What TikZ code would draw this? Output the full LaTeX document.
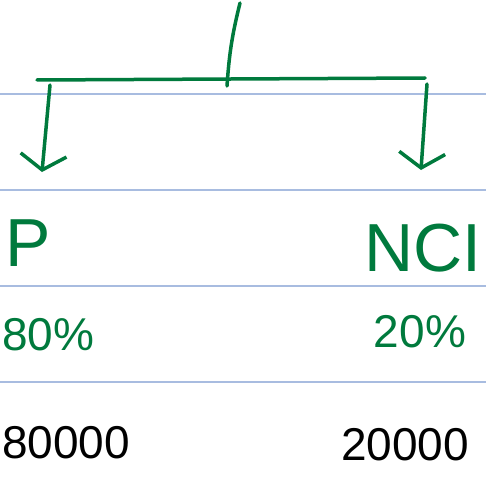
\documentclass[tikz,border=0pt]{standalone}
\usepackage{fontspec}
\setmainfont{Liberation Sans}
\usetikzlibrary{arrows.meta,positioning}
\definecolor{penGreen}{RGB}{0,122,61}
\definecolor{ruleBlue}{RGB}{168,188,224}

\begin{document}
\begin{tikzpicture}[x=1pt,y=-1pt,>={Straight Barb[length=15pt,width=46pt,line width=3.5pt]},
    pen/.style={draw=penGreen,line width=3.5pt,line cap=round,line join=round},
    ruling/.style={draw=ruleBlue,line width=1.5pt},
    entity/.style={text=penGreen,inner sep=0pt,font=\fontsize{68}{68}\selectfont},
    share/.style={text=penGreen,inner sep=0pt,font=\fontsize{46}{46}\selectfont},
    amount/.style={text=black,inner sep=0pt,font=\fontsize{46}{46}\selectfont}]
    \useasboundingbox[fill=white] (0,0) rectangle (486,476);

    % notebook lines
    \foreach \y in {94,190,286,382}
        \draw[ruling] (0,\y) -- (486,\y);

    \coordinate (top) at (240,3);
    \coordinate (joint) at (227,86);
    \coordinate (barl) at (37,80);
    \coordinate (barr) at (425,78);
    \coordinate (dropl) at (50,85);
    \coordinate (dropr) at (427,84);
    \coordinate (tipl) at (42,172);
    \coordinate (tipr) at (421,170);

    \node[entity] (P) at (28,243) {P};
    \node[entity] (NCI) at (423,248) {NCI};
    \node[share,anchor=west] (pshare) at (2,335) {80\%};
    \node[share] (nshare) at (420,332) {20\%};
    \node[amount,anchor=west] (pamt) at (2,443) {80000};
    \node[amount] (namt) at (405,445) {20000};

    \path[pen]
    (top) edge[bend right=5] (joint)
    (barl) edge (barr)
    (dropl) edge[->] (tipl)
    (dropr) edge[->] (tipr);
\end{tikzpicture}
\end{document}
